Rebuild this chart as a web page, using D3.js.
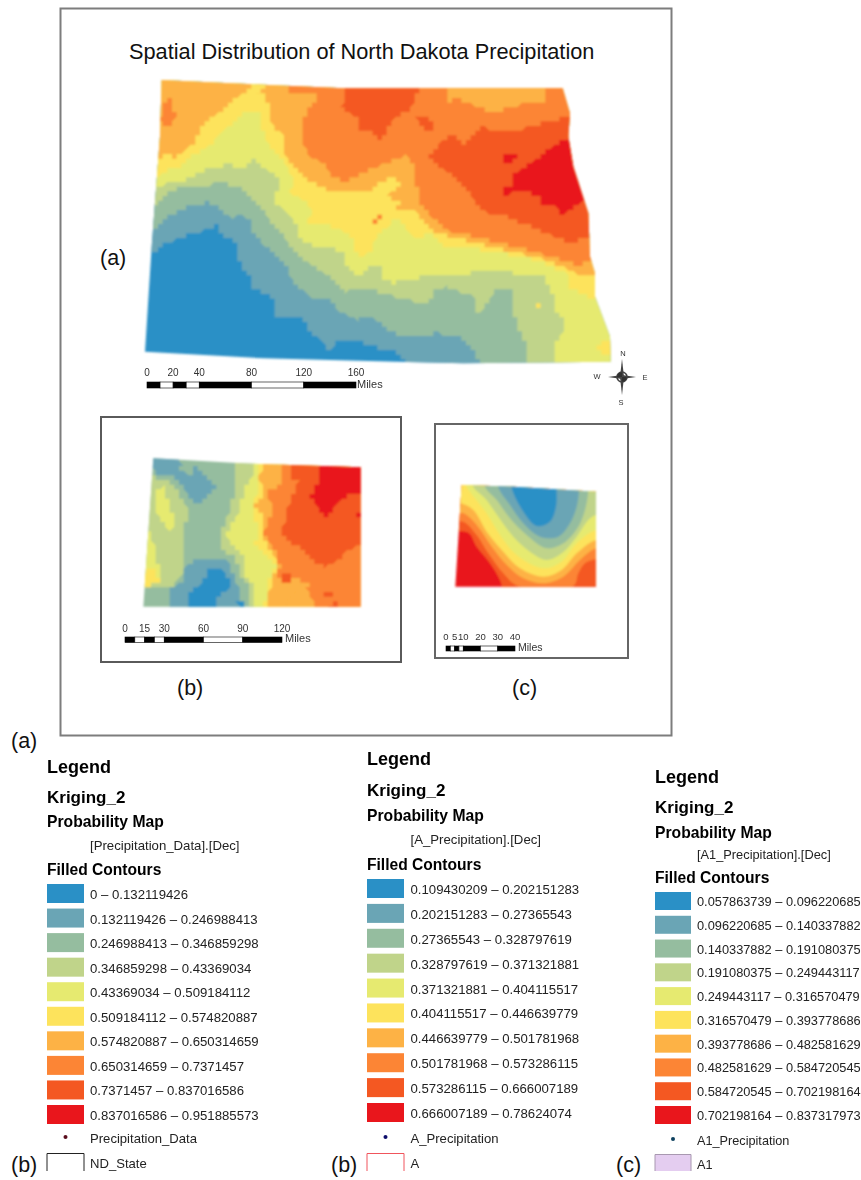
<!DOCTYPE html>
<html><head><meta charset="utf-8">
<script src="https://cdn.jsdelivr.net/npm/d3@7"></script>
<style>html,body{margin:0;padding:0;background:#fff}svg{display:block}text{font-family:"Liberation Sans",Arial,sans-serif;fill:#111}</style>
</head><body><svg id="c" width="861" height="1180"></svg>
<script>
const bandColors=["#2b90c6","#6aa5b5","#95bd9f","#c0d48a","#e6ea6f","#fde35c","#fdb244","#fc8534","#f45823","#e9151a"];

// ---- map A: digitised contour outlines (map units)
const outlineA=[[95,30],[300,40],[640,55],[1298,55],[1320,130],[1315,200],[1330,290],[1375,430],[1380,560],[1395,610],[1395,680],[1440,800],[1442,875],[1000,880],[800,875],[400,865],[45,845],[65,530],[90,200]];
const contoursA=[
[0,[[-100,950],[-100,-100],[1600,-100],[1600,950]]],
[1,[[-100,560],[65,550],[100,525],[135,510],[170,497],[205,490],[240,472],[260,465],[268,490],[300,505],[322,525],[325,570],[345,600],[360,625],[360,650],[400,670],[432,690],[440,720],[430,745],[480,745],[520,750],[540,790],[575,810],[590,830],[600,850],[615,820],[640,805],[680,810],[720,830],[790,840],[825,880],[825,950],[1600,950],[1600,-100],[-100,-100]]],
[2,[[-100,480],[72,480],[110,445],[150,420],[200,400],[240,398],[275,420],[305,445],[330,435],[355,445],[365,480],[395,520],[440,555],[470,590],[485,630],[540,680],[600,690],[620,720],[680,750],[720,745],[740,750],[790,790],[870,800],[920,790],[980,795],[1020,825],[1050,880],[1050,950],[1600,950],[1600,-100],[-100,-100]]],
[3,[[-100,415],[75,410],[100,380],[140,355],[180,350],[220,345],[280,340],[330,355],[370,385],[395,415],[420,450],[445,480],[480,525],[530,575],[570,600],[610,630],[650,665],[720,660],[760,670],[830,690],[880,700],[905,690],[905,655],[950,650],[990,665],[1030,680],[1030,720],[1050,730],[1080,690],[1090,665],[1140,650],[1145,700],[1155,740],[1170,790],[1195,830],[1195,950],[1600,950],[1600,-100],[-100,-100]]],
[4,[[-100,345],[80,350],[115,340],[150,340],[185,320],[225,300],[285,285],[340,290],[375,265],[410,300],[440,320],[450,345],[435,375],[440,400],[475,430],[500,470],[515,510],[555,530],[600,530],[640,550],[650,590],[690,620],[710,605],[725,585],[750,585],[755,620],[790,640],[840,625],[900,620],[960,620],[1020,610],[1090,595],[1150,610],[1250,620],[1255,660],[1280,680],[1275,720],[1310,770],[1280,810],[1272,880],[1272,950],[1600,950],[1600,-100],[-100,-100]]],
[5,[[-100,320],[80,325],[110,300],[150,300],[170,270],[200,250],[240,225],[260,200],[300,165],[340,130],[390,125],[395,180],[420,230],[440,255],[470,290],[490,330],[480,370],[520,390],[545,420],[535,455],[590,465],[630,480],[670,510],[670,545],[700,560],[730,530],[740,490],[770,480],[790,450],[810,440],[830,480],[860,510],[900,490],[940,525],[1000,525],[1050,540],[1120,550],[1200,565],[1260,585],[1310,610],[1310,650],[1395,690],[1600,690],[1600,-100],[-100,-100]]],
[5,[[1405,830],[1425,805],[1450,810],[1450,860],[1415,855]]],
[5,[[1212,710],[1225,695],[1232,710],[1220,722]]],
[6,[[-100,280],[85,275],[115,245],[140,265],[175,230],[200,210],[210,170],[250,140],[280,115],[320,85],[350,60],[370,45],[385,70],[410,70],[415,120],[430,170],[465,195],[465,255],[500,300],[560,345],[590,360],[640,370],[720,365],[745,340],[790,315],[810,340],[770,380],[810,395],[800,425],[850,415],[880,450],[920,490],[990,505],[1040,520],[1140,545],[1220,560],[1300,590],[1340,610],[1395,610],[1600,610],[1600,-100],[-100,-100]]],
[5,[[370,45],[400,40],[398,66],[382,66]]],
[5,[[148,58],[160,55],[160,70],[150,70]]],
[7,[[95,92],[130,90],[135,145],[115,170],[90,155]]],
[7,[[470,-100],[470,72],[530,75],[560,62],[555,95],[520,140],[515,215],[540,260],[590,285],[600,320],[650,335],[720,300],[790,270],[830,255],[855,290],[860,340],[870,400],[900,440],[950,480],[1050,505],[1150,530],[1230,550],[1300,570],[1345,590],[1385,565],[1600,565],[1600,-100]]],
[7,[[720,448],[765,435],[745,455],[730,460]]],
[6,[[950,40],[945,100],[980,85],[1040,110],[1100,130],[1130,110],[1250,95],[1250,40]]],
[8,[[650,40],[635,115],[680,145],[690,180],[730,185],[740,215],[770,190],[785,150],[840,120],[875,40]]],
[8,[[860,145],[885,140],[915,170],[915,190],[895,185]]],
[8,[[895,255],[950,200],[970,195],[1000,230],[1050,170],[1110,185],[1180,175],[1250,155],[1320,140],[1600,140],[1600,500],[1370,500],[1330,520],[1250,490],[1190,465],[1130,440],[1060,425],[1040,400],[1010,360],[970,320],[930,290]]],
[9,[[1320,200],[1290,215],[1230,260],[1185,290],[1150,310],[1145,345],[1115,360],[1120,375],[1170,365],[1225,375],[1230,400],[1280,410],[1295,435],[1340,410],[1360,385],[1600,385],[1600,200]]],
[9,[[1120,250],[1170,248],[1150,280],[1120,275]]]
];

// ---- map B
const outlineB=[[175,145],[440,160],[797,172],[797,590],[145,590]];
const contoursB=[
[2,[[0,0],[1000,0],[1000,700],[0,700]]],
[1,[[160,140],[250,140],[260,165],[250,175],[290,200],[300,165],[365,230],[345,250],[310,285],[295,270],[270,240],[240,205],[180,190]]],
[3,[[150,200],[175,200],[240,225],[280,300],[260,400],[270,450],[265,490],[230,530],[130,530],[130,400]]],
[4,[[180,250],[205,230],[240,340],[225,370],[190,320]]],
[4,[[130,520],[130,360],[170,360],[180,440],[200,480],[200,520]]],
[5,[[130,525],[150,480],[175,480],[195,520],[150,528]]],
[1,[[270,470],[300,450],[340,445],[395,445],[410,480],[430,530],[440,600],[220,600],[225,530],[265,520]]],
[0,[[345,475],[375,470],[410,520],[395,545],[365,560],[365,600],[278,600],[280,555],[320,520]]],
[0,[[430,565],[450,580],[440,600],[425,580]]],
[3,[[430,100],[420,210],[415,260],[395,330],[375,375],[385,420],[420,445],[440,500],[460,520],[470,600],[1000,600],[1000,100]]],
[4,[[490,100],[475,200],[460,210],[440,265],[430,310],[395,375],[410,410],[450,440],[445,490],[480,530],[480,600],[1000,600],[1000,100]]],
[5,[[498,100],[490,230],[475,290],[490,370],[480,400],[510,435],[545,465],[520,510],[515,560],[500,600],[1000,600],[1000,100]]],
[6,[[505,100],[495,210],[510,240],[480,290],[510,320],[500,370],[520,410],[550,460],[530,510],[515,600],[1000,600],[1000,100]]],
[7,[[553,100],[555,225],[520,240],[530,310],[505,370],[545,430],[555,470],[545,500],[575,490],[620,510],[650,560],[655,600],[1000,600],[1000,100]]],
[6,[[572,580],[630,512],[640,522],[590,590]]],
[8,[[560,495],[585,490],[590,515],[570,525]]],
[8,[[590,100],[585,210],[610,215],[580,290],[560,370],[580,395],[625,420],[660,460],[690,470],[720,455],[745,450],[750,420],[790,410],[1000,410],[1000,100]]],
[8,[[680,545],[730,540],[700,570]]],
[8,[[710,580],[725,570],[735,595],[705,595]]],
[9,[[680,100],[675,200],[645,260],[670,295],[695,320],[720,290],[745,260],[797,250],[1000,250],[1000,100]]],
[9,[[775,310],[800,300],[800,322]]]
];

// ---- map C (smooth contours)
const outlineC=[[95,195],[250,200],[498,215],[498,500],[76,500]];
const contoursC=[
[9,[[0,0],[700,0],[700,600],[0,600]]],
[8,[[60,335],[115,338],[140,380],[180,430],[215,495],[215,560],[560,560],[560,100],[60,100]]],
[7,[[60,305],[100,305],[140,345],[175,400],[220,460],[265,498],[430,498],[445,460],[465,430],[498,418],[560,418],[560,100],[60,100]]],
[6,[[60,280],[100,280],[140,315],[185,380],[230,435],[280,475],[340,490],[400,470],[450,420],[498,385],[560,385],[560,100],[60,100]]],
[5,[[60,250],[92,250],[130,270],[170,335],[215,390],[270,445],[340,470],[395,450],[440,400],[498,360],[560,360],[560,100],[60,100]]],
[4,[[100,170],[110,200],[135,235],[170,280],[210,345],[260,405],[340,445],[395,425],[440,370],[498,330],[560,330],[560,170]]],
[3,[[130,170],[130,200],[165,235],[205,290],[250,350],[300,395],[350,420],[395,400],[440,350],[475,300],[498,285],[560,285],[560,170]]],
[2,[[165,170],[165,200],[200,240],[240,295],[290,345],[350,385],[400,370],[445,320],[465,270],[475,213],[475,170]]],
[1,[[205,170],[205,202],[240,255],[280,310],[330,350],[385,350],[420,310],[440,260],[447,212],[447,170]]],
[0,[[245,170],[245,203],[280,275],[320,318],[360,305],[378,260],[380,207],[380,170]]]
];

// ---- scale bars (miles)
const scaleTicksA=[0,10,20,30,40,80,120,160], scaleLabelsA=[0,20,40,80,120,160];
const scaleTicksB=[0,7.5,15,22.5,30,60,90,120], scaleLabelsB=[0,15,30,60,90,120];
const scaleTicksC=[0,2.5,5,7.5,10,20,30,40], scaleLabelsC=[0,5,10,20,30,40];

// ---- legends
const breaks1=["0","0.132119426","0.246988413","0.346859298","0.43369034","0.509184112","0.574820887","0.650314659","0.7371457","0.837016586","0.951885573"];
const breaks2=["0.109430209","0.202151283","0.27365543","0.328797619","0.371321881","0.404115517","0.446639779","0.501781968","0.573286115","0.666007189","0.78624074"];
const breaks3=["0.057863739","0.096220685","0.140337882","0.191080375","0.249443117","0.316570479","0.393778686","0.482581629","0.584720545","0.702198164","0.837317973"];

const svg=d3.select("#c");
const defs=svg.append("defs");
defs.append("filter").attr("id","soft").attr("x","-5%").attr("y","-5%").attr("width","110%").attr("height","110%").append("feGaussianBlur").attr("stdDeviation",0.8);
defs.append("filter").attr("id","softer").attr("x","-5%").attr("y","-20%").attr("width","110%").attr("height","140%").append("feGaussianBlur").attr("stdDeviation",0.5);
defs.append("filter").attr("id","faint").attr("x","-2%").attr("y","-10%").attr("width","104%").attr("height","120%").append("feGaussianBlur").attr("stdDeviation",0.25);

function frame(x,y,w,h,col,sw){svg.append("rect").attr("x",x).attr("y",y).attr("width",w).attr("height",h).attr("fill","#fff").attr("stroke",col).attr("stroke-width",sw).attr("filter","url(#softer)");}
frame(60.5,8.5,611,727,"#7d7d7d",2);
frame(101,417,300,245,"#5a5a5a",2);
frame(435,424,193,234,"#666",2);

// raster-like staircase edge, as a kriging grid renders
function stair(ring,cell){
  const out=[],snap=v=>Math.round(v/cell)*cell;
  ring.forEach((p,i)=>{
    const q=ring[(i+1)%ring.length],n=Math.max(1,Math.ceil(Math.hypot(q[0]-p[0],q[1]-p[1])/(cell/3)));
    d3.range(n).forEach(k=>{
      const pt=[snap(p[0]+(q[0]-p[0])*k/n),snap(p[1]+(q[1]-p[1])*k/n)],l=out[out.length-1];
      if(!l||l[0]!==pt[0]||l[1]!==pt[1])out.push(pt);
    });
  });
  return out;
}
function drawMap(id,outline,contours,ox,oy,w,h,opt){
  const x=d3.scaleLinear().domain([0,w*3]).range([ox,ox+w]);
  const y=d3.scaleLinear().domain([0,h*3]).range([oy,oy+h]);
  const line=d3.line().x(d=>x(d[0])).y(d=>y(d[1]));
  defs.append("clipPath").attr("id",id).append("path").attr("d",line(outline)+"Z");
  const g=svg.append("g").attr("filter","url(#soft)").append("g").attr("clip-path",`url(#${id})`);
  const cl=opt.curve?d3.line().x(d=>x(d[0])).y(d=>y(d[1])).curve(opt.curve):line;
  g.selectAll("path").data(contours).join("path").attr("d",d=>cl(opt.cell?stair(d[1],opt.cell):d[1])+"Z").attr("fill",d=>bandColors[d[0]]);
}
drawMap("ma",outlineA,contoursA,130,70,500,340,{cell:14});
drawMap("mb",outlineB,contoursB,95,410,320,260,{cell:14});
drawMap("mc",outlineC,contoursC,430,420,210,250,{curve:d3.curveCatmullRom});

function scaleBar(ticks,labels,x0,x1,y,h,labY,fs,mx,my,mfs){
  const s=d3.scaleLinear().domain([0,d3.max(ticks)]).range([x0,x1]);
  const g=svg.append("g").attr("filter","url(#softer)");
  d3.pairs(ticks).forEach((p,i)=>g.append("rect").attr("x",s(p[0])).attr("y",y).attr("width",s(p[1])-s(p[0])).attr("height",h).attr("fill",i%2?"#fff":"#000").attr("stroke","#000").attr("stroke-width",.6));
  g.selectAll("text.l").data(labels).join("text").attr("x",d=>s(d)).attr("y",labY).attr("text-anchor","middle").attr("font-size",fs).style("fill","#333").text(d=>d);
  g.append("text").attr("x",mx).attr("y",my).attr("font-size",mfs).style("fill","#333").text("Miles");
}
scaleBar(scaleTicksA,scaleLabelsA,147,356,382,6,376,10,357,388,11);
scaleBar(scaleTicksB,scaleLabelsB,125,282,637,5.5,632,10,285,642,11);
scaleBar(scaleTicksC,scaleLabelsC,446,515,646,5,640,9.5,518,651,10.5);

// north arrow
const compass=[["N",623,356],["S",621,405],["W",597,379],["E",645,380]];
const cg=svg.append("g").attr("filter","url(#softer)").attr("transform","translate(622,377)").attr("opacity",.85);
const arms=[[0,-18],[14,0],[0,18],[-14,0]];
arms.forEach(a=>cg.append("path").attr("d",d3.line()([[a[0],a[1]],[a[1]?2:0,a[0]?2:0],[-(a[1]?2:0),-(a[0]?2:0)]])+"Z").attr("fill","#222"));
cg.append("circle").attr("r",5).attr("fill","none").attr("stroke","#222").attr("stroke-width",1.6);
cg.append("path").attr("d","M-5,0A5,5 0 0 1 0,-5L0,0ZM5,0A5,5 0 0 1 0,5L0,0Z").attr("fill","#111");
svg.append("g").attr("filter","url(#softer)").selectAll("text").data(compass).join("text").attr("x",d=>d[1]).attr("y",d=>d[2]).attr("text-anchor","middle").attr("font-size",7.5).style("fill","#333").text(d=>d[0]);

// titles
const plain=[["Spatial Distribution of North Dakota Precipitation",129,59,21.75],["(a)",100,265,21.5],["(b)",177,695,21.5],["(c)",512,695,21.5],["(a)",11,748,21.5],["(b)",11,1172,21.5],["(b)",331,1172,21.5],["(c)",616,1172,21.5]];
svg.append("g").selectAll("text").data(plain).join("text").attr("x",d=>d[1]).attr("y",d=>d[2]).attr("font-size",d=>d[3]).text(d=>d[0]);

function legend(o){
  const g=svg.append("g").attr("filter","url(#faint)");
  const t=(x,y,s,fs,b)=>g.append("text").attr("x",x).attr("y",y).attr("font-size",fs).attr("font-weight",b?"bold":null).style("fill",b?"#000":"#222").text(s);
  t(o.x,o.y[0],"Legend",18,1);t(o.x,o.y[1],"Kriging_2",17,1);t(o.x,o.y[2],"Probability Map",15.7,1);
  t(o.lx,o.y[3],o.field,o.fs,0);t(o.x,o.y[4],"Filled Contours",15.6,1);
  const sy=d3.scaleLinear().domain([0,9]).range([o.s0,o.s9]);
  d3.pairs(o.breaks).forEach((p,i)=>{
    g.append("rect").attr("x",o.x).attr("y",sy(i)).attr("width",o.sw).attr("height",o.sh).attr("fill",bandColors[i]);
    t(o.lx,sy(i)+o.sh-4,p[0]+" – "+p[1],o.fs,0);
  });
  g.append("circle").attr("cx",o.x+o.sw/2).attr("cy",o.dotY).attr("r",2).attr("fill",o.dot);
  t(o.lx,o.dotY+6,o.pts,o.fs-.1,0);
  g.append("path").attr("d",d3.line()([[o.x,o.boxB],[o.x,o.boxT],[o.x+o.sw,o.boxT],[o.x+o.sw,o.boxB]])).attr("fill",o.boxFill).attr("stroke",o.boxStroke).attr("stroke-width",1);
  t(o.lx,o.boxT+14,o.state,o.fs-.1,0);
}
legend({x:47,lx:90,y:[773,803,827,850,875],s0:884,s9:1105,sw:37,sh:19,fs:13.2,field:"[Precipitation_Data].[Dec]",breaks:breaks1,dot:"#5a0f1e",dotY:1137,pts:"Precipitation_Data",boxT:1153.5,boxB:1171,boxFill:"#fff",boxStroke:"#222",state:"ND_State"});
legend({x:367,lx:410.5,y:[765,796,821,844,870],s0:879,s9:1103,sw:37,sh:19,fs:13.2,field:"[A_Precipitation].[Dec]",breaks:breaks2,dot:"#0b0f6b",dotY:1137,pts:"A_Precipitation",boxT:1153.5,boxB:1171,boxFill:"#fff",boxStroke:"#f0555c",state:"A"});
legend({x:655,lx:697,y:[783,813,838,859,883],s0:892,s9:1106,sw:36,sh:18,fs:12.8,field:"[A1_Precipitation].[Dec]",breaks:breaks3,dot:"#0b3f5f",dotY:1139,pts:"A1_Precipitation",boxT:1154.5,boxB:1171,boxFill:"#e4cdf0",boxStroke:"#a898b0",state:"A1"});
</script></body></html>
